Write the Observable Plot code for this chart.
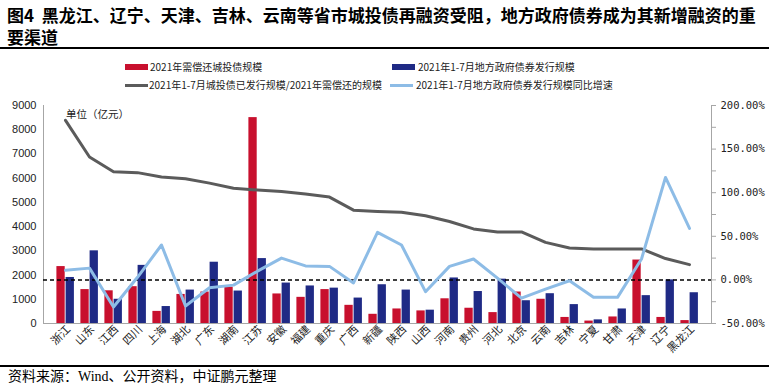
<!DOCTYPE html>
<html><head><meta charset="utf-8">
<script src="https://cdn.jsdelivr.net/npm/d3@7"></script>
<script src="https://cdn.jsdelivr.net/npm/@observablehq/plot@0.6"></script>
<style>
body{margin:0;background:#fff}
#wrap{position:relative;width:769px;height:391px;overflow:hidden;font-family:"Noto Sans CJK SC",sans-serif;color:#000;background:#fff}
.title{position:absolute;left:7px;font-size:17px;font-weight:bold;line-height:19px;white-space:nowrap}
.rule{position:absolute;left:0;width:769px;height:2px;background:#000}
.lg{position:absolute;font-size:10px;line-height:12px;white-space:nowrap;color:#222}
.sw{position:absolute}
.unit{position:absolute;left:66px;top:106px;font-size:10.5px;color:#222}
.foot{position:absolute;left:8px;top:368px;font-size:14px;line-height:18px;font-family:"Liberation Serif","Noto Sans CJK SC",serif;white-space:nowrap}
#chart{position:absolute;left:0;top:90px}
</style></head>
<body><div id="wrap">
<div class="title" style="top:5px">图4&nbsp; 黑龙江、辽宁、天津、吉林、云南等省市城投债再融资受阻，地方政府债券成为其新增融资的重</div>
<div class="title" style="top:27px">要渠道</div>
<div class="rule" style="top:47px"></div>
<div id="legend"></div>
<div class="unit">单位（亿元）</div>
<div id="chart"></div>
<div class="rule" style="top:365px"></div>
<div class="foot">资料来源：Wind、公开资料，中证鹏元整理</div>
</div>
<script>
const provinces = ["浙江","山东","江西","四川","上海","湖北","广东","湖南","江苏","安徽","福建","重庆","广西","新疆","陕西","山西","河南","贵州","河北","北京","云南","吉林","宁夏","甘肃","天津","辽宁","黑龙江"];
const debtDue = [2350,1400,1350,1520,500,1200,1300,1500,8500,1220,1080,1400,750,380,600,520,1020,630,450,1300,1000,250,100,270,2620,250,120];
const govBond = [1900,3000,1000,2400,700,1380,2530,1340,2680,1670,1550,1460,1050,1600,1380,550,1880,1320,1830,940,1230,780,150,600,1150,1800,1270];
const issueRatio = [183,141,124,123,118,116,111,105,103,101.5,98.5,95,80,78.5,77.5,73.5,67,58.5,55,55,43,36.5,35.5,35.5,35.5,24.5,17.5];
const bondGrowth = [11,13.5,-31,3,40,-30,-9,-6,10,25,16,15.5,-3.5,54.5,40,-13.5,15.5,24,2,-21,-10.5,-1,-20,-20,24,117.5,59];
const leftTicks = [0,1000,2000,3000,4000,5000,6000,7000,8000,9000];
const rightTicks = [-50,0,50,100,150,200];
const rightMinor = [-50,-25,0,25,50,75,100,125,150,175,200];
const seriesNames = ["2021年需偿还城投债规模","2021年1-7月地方政府债券发行规模","2021年1-7月城投债已发行规模/2021年需偿还的规模","2021年1-7月地方政府债券发行规模同比增速"];
const colors = ["#C8102E","#1F2A85","#5B5B5B","#8DBCE6"];

const leftMax = 9000, pMin = -50, pMax = 200;
const toY = p => (p - pMin) / (pMax - pMin) * leftMax;

const data = provinces.map((p, i) => ({p, due: debtDue[i], bond: govBond[i], ratio: issueRatio[i], growth: bondGrowth[i]}));

// legend
const lg = document.getElementById("legend");
const items = [
  {x:125, y:67, kind:"bar", c:0, tx:150},
  {x:392, y:67, kind:"bar", c:1, tx:418},
  {x:125, y:85, kind:"line", c:2, tx:149},
  {x:390, y:85, kind:"line", c:3, tx:416}
];
items.forEach((it, i) => {
  const s = document.createElement("div");
  s.className = "sw";
  const h = it.kind === "bar" ? 6 : 3;
  s.style.cssText = `left:${it.x}px;top:${it.y - h/2}px;width:23px;height:${h}px;background:${colors[it.c]}`;
  lg.appendChild(s);
  const t = document.createElement("div");
  t.className = "lg";
  t.style.left = it.tx + "px";
  t.style.top = (it.y - 6.5) + "px";
  t.textContent = seriesNames[i];
  lg.appendChild(t);
});

const W = 769, H = 273;
const chart = Plot.plot({
  width: W, height: H,
  marginLeft: 43, marginRight: 58, marginTop: 15, marginBottom: 40,
  style: {fontFamily: "'Noto Sans CJK SC', sans-serif", fontSize: "11px", color: "#222", background: "transparent"},
  x: {type: "band", domain: provinces, padding: 0},
  y: {domain: [0, leftMax]},
  marks: [
    Plot.barY(data, {x: "p", y: "due", fill: colors[0], insetLeft: 3.4, insetRight: 12.3}),
    Plot.barY(data, {x: "p", y: "bond", fill: colors[1], insetLeft: 12.6, insetRight: 3.1}),
    Plot.frame({anchor: "left", stroke: "#a6a6a6"}),
    Plot.frame({anchor: "right", stroke: "#a6a6a6"}),
    Plot.frame({anchor: "bottom", stroke: "#a6a6a6"}),
    Plot.ruleY([toY(0)], {stroke: "#000", strokeWidth: 1.5, strokeDasharray: "4,3"}),
    Plot.line(data, {x: "p", y: d => toY(d.ratio), stroke: colors[2], strokeWidth: 3}),
    Plot.line(data, {x: "p", y: d => toY(d.growth), stroke: colors[3], strokeWidth: 3}),
    Plot.axisY({anchor: "left", ticks: leftTicks, tickSize: 0, tickPadding: 7, label: null, tickFormat: d => String(d), fontFamily: "'Liberation Sans', Arial, sans-serif", fontSize: 11}),
    Plot.axisY({anchor: "right", ticks: rightMinor.map(toY), tickSize: 4, tickPadding: 0, label: null, stroke: "#a6a6a6", tickFormat: () => ""}),
    Plot.axisY({anchor: "right", ticks: rightTicks.map(toY), tickSize: 0, tickPadding: 9, label: null, fontFamily: "'DejaVu Sans Mono', monospace", fontSize: 10.5,
      tickFormat: v => (v / leftMax * (pMax - pMin) + pMin).toFixed(2) + "%"}),
    Plot.axisX({tickRotate: -45, tickSize: 0, tickPadding: 4, label: null, fontSize: 11, dx: 3})
  ]
});
document.getElementById("chart").appendChild(chart);
</script>
</body></html>
